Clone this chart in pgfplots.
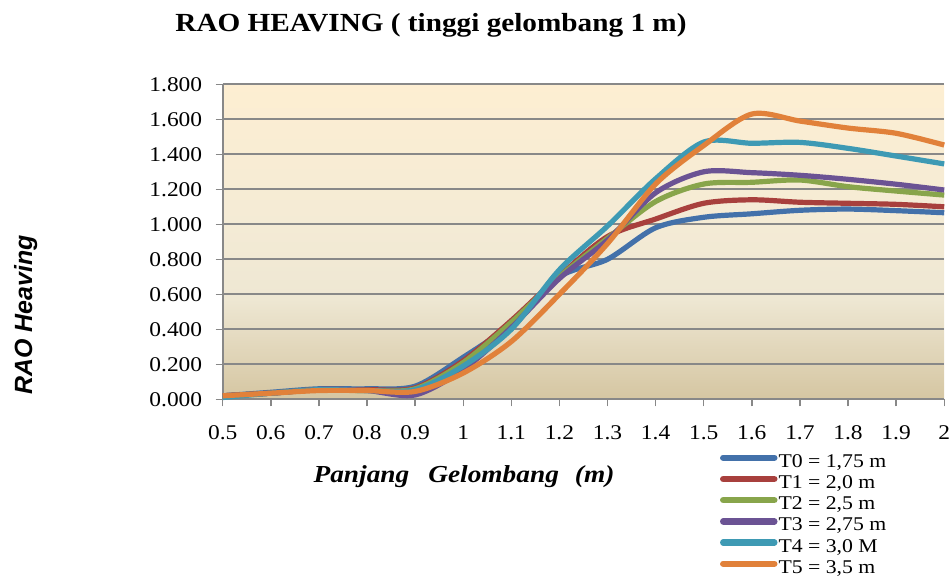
\documentclass[border=0pt]{standalone}
\usepackage{pgfplots}
\usepackage{pgfplotstable}
\pgfplotsset{compat=1.18}
\usepackage{fontspec}
\setmainfont{Liberation Serif}[FakeStretch=1.12]
\newfontfamily\labelsans{Liberation Sans}

\definecolor{cT0}{HTML}{4371AA}
\definecolor{cT1}{HTML}{A8403D}
\definecolor{cT2}{HTML}{88A54B}
\definecolor{cT3}{HTML}{6B5394}
\definecolor{cT4}{HTML}{3E9AB4}
\definecolor{cT5}{HTML}{E1813A}
\definecolor{bgtop}{HTML}{FDEED2}
\definecolor{bgmidA}{HTML}{F4EBD5}
\definecolor{bgmid}{HTML}{EEE7D3}
\definecolor{bgbot}{HTML}{D5C6A2}
\definecolor{gridgray}{HTML}{888888}

\pgfdeclareverticalshading{parch}{100bp}{color(0bp)=(bgbot); color(25bp)=(bgbot); color(41bp)=(bgmid); color(53bp)=(bgmidA); color(75bp)=(bgtop); color(100bp)=(bgtop)}

\pgfplotstableread{
x    T0    T1    T2    T3    T4    T5
0.5  0.020 0.020 0.020 0.020 0.010 0.020
0.6  0.040 0.035 0.035 0.035 0.035 0.035
0.7  0.060 0.055 0.055 0.055 0.055 0.050
0.8  0.060 0.055 0.050 0.050 0.050 0.050
0.9  0.075 0.065 0.060 0.025 0.055 0.045
1.0  0.240 0.220 0.210 0.170 0.190 0.150
1.1  0.430 0.450 0.440 0.410 0.400 0.330
1.2  0.700 0.705 0.700 0.690 0.740 0.600
1.3  0.800 0.930 0.920 0.910 0.990 0.890
1.4  0.980 1.030 1.130 1.180 1.260 1.230
1.5  1.040 1.120 1.230 1.300 1.470 1.450
1.6  1.060 1.140 1.240 1.295 1.463 1.630
1.7  1.080 1.126 1.253 1.280 1.468 1.590
1.8  1.087 1.120 1.215 1.257 1.434 1.550
1.9  1.078 1.114 1.190 1.229 1.390 1.520
2.0  1.066 1.100 1.167 1.196 1.345 1.453
}\datatable

\begin{document}
\begin{tikzpicture}
\path[use as bounding box] (0bp,0bp) rectangle (952bp,585bp);
\begin{axis}[
  at={(222.7bp,185.7bp)}, anchor=south west,
  scale only axis, width=721.5bp, height=315bp,
  xmin=0.5, xmax=2, ymin=0, ymax=1.8,
  axis lines*=left,
  axis line style={draw=gridgray, line width=1.6bp},
  xtick={0.5,0.6,0.7,0.8,0.9,1.0,1.1,1.2,1.3,1.4,1.5,1.6,1.7,1.8,1.9,2.0},
  xticklabels={0.5,0.6,0.7,0.8,0.9,1,1.1,1.2,1.3,1.4,1.5,1.6,1.7,1.8,1.9,2},
  ytick={0,0.2,0.4,0.6,0.8,1.0,1.2,1.4,1.6,1.8},
  yticklabels={0.000,0.200,0.400,0.600,0.800,1.000,1.200,1.400,1.600,1.800},
  tick align=outside, major tick length=7bp,
  tick style={draw=gridgray, line width=1.4bp},
  ymajorgrids, grid style={draw=gridgray, line width=1.6bp},
  axis background/.style={shading=parch},
  clip=false,
  tick label style={font=\fontsize{21}{21}\selectfont},
  xticklabel style={yshift=-16bp},
  yticklabel style={xshift=-10bp},
  /pgf/number format/assume math mode=true,
  legend style={at={(0.689,-0.164)}, anchor=north west, draw=none, fill=none,
    inner sep=0pt, row sep=0pt, font=\fontsize{19.5}{20}\selectfont,
    nodes={inner sep=1bp, text height=15.2bp, text depth=4bp}},
  legend cell align=left,
  legend image code/.code={\draw[#1, line width=6.5bp, line cap=round] (0bp,4bp) -- (51bp,4bp);},
  every axis plot/.append style={line width=5.2bp, smooth},
]
\addplot[cT0] table[x=x, y=T0] {\datatable};
\addlegendentry{T0 = 1,75 m}
\addplot[cT1] table[x=x, y=T1] {\datatable};
\addlegendentry{T1 = 2,0 m}
\addplot[cT2] table[x=x, y=T2] {\datatable};
\addlegendentry{T2 = 2,5 m}
\addplot[cT3] table[x=x, y=T3] {\datatable};
\addlegendentry{T3 = 2,75 m}
\addplot[cT4] table[x=x, y=T4] {\datatable};
\addlegendentry{T4 = 3,0 M}
\addplot[cT5] table[x=x, y=T5] {\datatable};
\addlegendentry{T5 = 3,5 m}
\end{axis}
\node[font=\bfseries\fontsize{26.2}{30}\selectfont, anchor=base] at (431bp,553bp) {RAO HEAVING ( tinggi gelombang 1 m)};
\node[font=\labelsans\bfseries\itshape\fontsize{25}{28}\selectfont, rotate=90, anchor=base] at (32bp,270bp) {RAO Heaving};
\node[font=\bfseries\itshape\fontsize{24.5}{28}\selectfont, anchor=base] at (464bp,102bp) {Panjang\hspace{19bp}Gelombang\hspace{16bp}(m)};
\end{tikzpicture}
\end{document}
